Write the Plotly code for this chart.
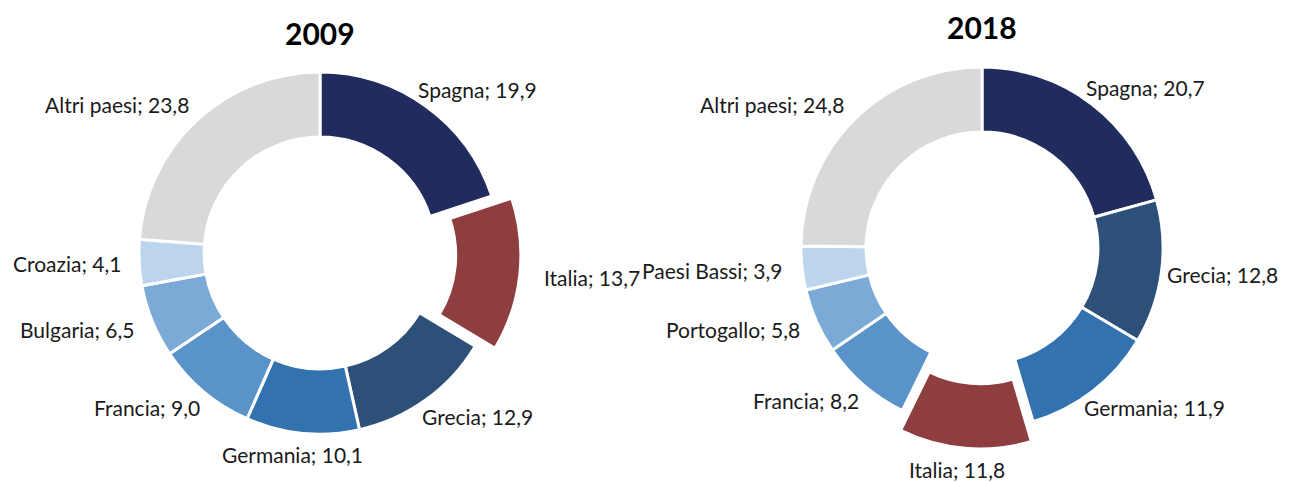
import numpy as np
import plotly.graph_objects as go

W, H = 1290, 483
OFF = 8  # page body margin

labels_2009 = ["Spagna", "Italia", "Grecia", "Germania", "Francia", "Bulgaria", "Croazia", "Altri paesi"]
values_2009 = [19.9, 13.7, 12.9, 10.1, 9.0, 6.5, 4.1, 23.8]
colors_2009 = ["#202C5E", "#8E3E3F", "#2D5078", "#3272AE", "#5A93C9", "#7BAAD6", "#BDD5EC", "#D8D9DB"]
pull_2009 = [0, 0.11, 0, 0, 0, 0, 0, 0]

labels_2018 = ["Spagna", "Grecia", "Germania", "Italia", "Francia", "Portogallo", "Paesi Bassi", "Altri paesi"]
values_2018 = [20.7, 12.8, 11.9, 11.8, 8.2, 5.8, 3.9, 24.8]
colors_2018 = ["#202C5E", "#2D5078", "#3272AE", "#8E3E3F", "#5A93C9", "#7BAAD6", "#BDD5EC", "#D8D9DB"]
pull_2018 = [0, 0, 0, 0.11, 0, 0, 0, 0]

FONT = "Lato"
R = 181      # ring radius in px
HALF = 201   # domain half size (ring + pull)
GAP = 18     # label distance outside the ring
RIGHT_LIMIT = 1276  # keep labels inside the visible page


def px_to_paper(x, y):
    return (x - OFF) / W, 1 - (y - OFF) / H


def domain(cx, cy):
    x0, y1 = px_to_paper(cx - HALF, cy - HALF)
    x1, y0 = px_to_paper(cx + HALF, cy + HALF)
    return dict(x=[x0, x1], y=[y0, y1])


def donut(labels, values, colors, pull, dom):
    return go.Pie(
        labels=labels,
        values=values,
        pull=pull,
        hole=0.64,
        sort=False,
        direction="clockwise",
        rotation=0,
        marker=dict(colors=colors, line=dict(color="white", width=3)),
        textinfo="none",
        automargin=False,
        domain=dom,
        showlegend=False,
        hovertemplate="%{label}: %{value:.1f}<extra></extra>",
    )


def add_labels(fig, labels, values, pull, cx, cy):
    # Excel-style outside labels, placed from the slice mid angles
    vals = np.array(values, dtype=float)
    frac = vals / vals.sum()
    mids = (np.cumsum(frac) - frac / 2) * 2 * np.pi
    for lab, v, p, a in zip(labels, values, pull, mids):
        s, c = np.sin(a), np.cos(a)
        rr = R * (1 + p) + GAP
        txt = f"{lab}; {v:.1f}".replace(".", ",")
        w = 9.0 * len(txt)
        x = cx + rr * s + w / 2 * np.clip(1.3 * s, -1, 1)
        x = min(x, RIGHT_LIMIT - w / 2)
        y = cy - rr * c - 3 * c
        xp, yp = px_to_paper(x, y)
        fig.add_annotation(text=txt, x=xp, y=yp,
                           xref="paper", yref="paper", xanchor="center", yanchor="middle",
                           showarrow=False, font=dict(family=FONT, size=21, color="#1A1A1A"))


fig = go.Figure()
fig.add_trace(donut(labels_2009, values_2009, colors_2009, pull_2009, domain(320, 253)))
fig.add_trace(donut(labels_2018, values_2018, colors_2018, pull_2018, domain(982, 248)))

add_labels(fig, labels_2009, values_2009, pull_2009, 320, 253)
add_labels(fig, labels_2018, values_2018, pull_2018, 982, 248)

for year, tx, ty in [("2009", 320, 33), ("2018", 982, 27)]:
    xp, yp = px_to_paper(tx, ty)
    fig.add_annotation(text=f"<b>{year}</b>", x=xp, y=yp, xref="paper", yref="paper",
                       xanchor="center", yanchor="middle", showarrow=False,
                       font=dict(family=FONT, size=30, color="black"))

fig.update_layout(
    width=W,
    height=H,
    margin=dict(l=0, r=0, t=0, b=0, autoexpand=False),
    paper_bgcolor="white",
    plot_bgcolor="white",
    separators=", ",
    font=dict(family=FONT),
)

fig.write_html("out.html")
